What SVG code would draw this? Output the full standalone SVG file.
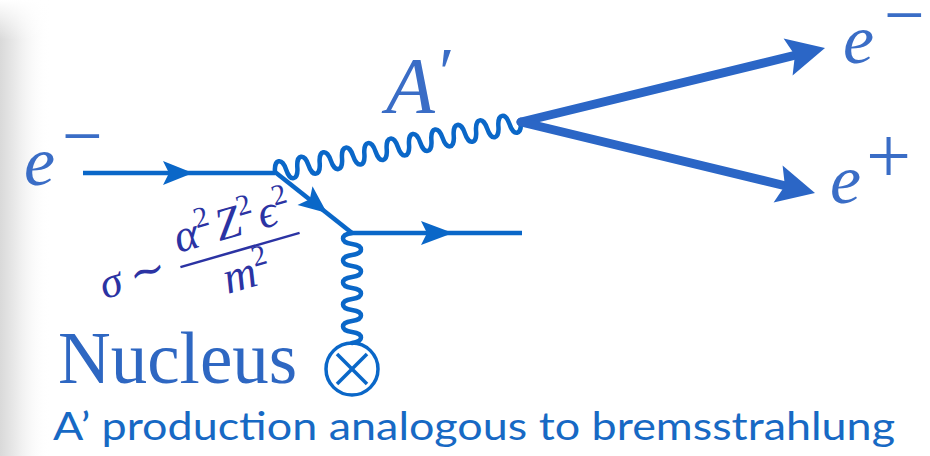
<svg xmlns="http://www.w3.org/2000/svg" width="930" height="456" viewBox="0 0 930 456">
  <defs>
    <linearGradient id="shadow" x1="0" y1="0" x2="1" y2="0">
      <stop offset="0" stop-color="#d9d9d9"/>
      <stop offset="0.3" stop-color="#e9e9e9"/>
      <stop offset="1" stop-color="#ffffff" stop-opacity="0"/>
    </linearGradient>
    <linearGradient id="topfade" x1="0" y1="0" x2="0" y2="1">
      <stop offset="0" stop-color="#ffffff"/>
      <stop offset="1" stop-color="#ffffff" stop-opacity="0"/>
    </linearGradient>
  </defs>
  <style>
    .thin { fill: none; stroke: #0a67c8; stroke-width: 4.5; }
    .wave { fill: none; stroke: #0a67c8; stroke-width: 4.5; stroke-linecap: round; }
    .thick { fill: none; stroke: #2b66c6; stroke-width: 9; stroke-linecap: round; }
    .head { fill: #0a67c8; }
    .headthick { fill: #2b66c6; }
    .lbl { font-family: "Liberation Serif", "DejaVu Serif", serif; font-style: italic; fill: #3a6dc6; }
    .sup { font-family: "Liberation Serif", "DejaVu Serif", serif; font-style: normal; fill: #3a6dc6; }
    .math { font-family: "Liberation Serif", "DejaVu Serif", serif; font-style: italic; fill: #2b33a3; }
    .nuc { font-family: "Liberation Serif", "DejaVu Serif", serif; fill: #2e67c2; }
    .caption { font-family: Lato, "Open Sans", "Liberation Sans", sans-serif; fill: #1769c4; }
  </style>

  <rect x="0" y="0" width="930" height="456" fill="#ffffff"/>
  <rect x="0" y="0" width="50" height="456" fill="url(#shadow)"/>
  <rect x="0" y="0" width="50" height="40" fill="url(#topfade)"/>

  <g id="connectors">
    <!-- incoming electron -->
    <line class="thin" x1="83" y1="173" x2="275" y2="173"/>
    <polygon class="head" points="193,173 163,161 169,173 163,185"/>
    <!-- diagonal electron -->
    <line class="thin" x1="275" y1="172" x2="352" y2="233"/>
    <polygon class="head" points="327,213 312.5,186.2 309.8,199.3 297.5,205"/>
    <!-- outgoing electron -->
    <line class="thin" x1="350" y1="233" x2="522" y2="233"/>
    <polygon class="head" points="453,233 421,221 427,233 421,245"/>
    <!-- A' photon -->
    <path class="wave" transform="translate(275,172) rotate(-11.5)" d="M0,0 c1.5,-13 9.9,-13 11.4,0 c1.5,13 9.9,13 11.4,0 c1.5,-13 9.9,-13 11.4,0 c1.5,13 9.9,13 11.4,0 c1.5,-13 9.9,-13 11.4,0 c1.5,13 9.9,13 11.4,0 c1.5,-13 9.9,-13 11.4,0 c1.5,13 9.9,13 11.4,0 c1.5,-13 9.9,-13 11.4,0 c1.5,13 9.9,13 11.4,0 c1.5,-13 9.9,-13 11.4,0 c1.5,13 9.9,13 11.4,0 c1.5,-13 9.9,-13 11.4,0 c1.5,13 9.9,13 11.4,0 c1.5,-13 9.9,-13 11.4,0 c1.5,13 9.9,13 11.4,0 c1.5,-13 9.9,-13 11.4,0 c1.5,13 9.9,13 11.4,0 c1.5,-13 9.9,-13 11.4,0 c1.5,13 9.9,13 11.4,0 c1.5,-13 9.9,-13 11.4,0 c1.5,13 9.9,13 11.4,0"/>
    <!-- exchanged photon to nucleus -->
    <path class="wave" transform="translate(352,233) rotate(90)" d="M0,0 c1.5,12 9.5,12 11,0 c1.5,-12 9.5,-12 11,0 c1.5,12 9.5,12 11,0 c1.5,-12 9.5,-12 11,0 c1.5,12 9.5,12 11,0 c1.5,-12 9.5,-12 11,0 c1.5,12 9.5,12 11,0 c1.5,-12 9.5,-12 11,0 c1.5,12 9.5,12 11,0 c1.5,-12 9.5,-12 11,0"/>
    <!-- outgoing e- -->
    <line class="thick" x1="521" y1="122" x2="796" y2="55"/>
    <polygon class="headthick" points="825,48 783.6,38.5 794.9,55.3 792.6,75.5"/>
    <!-- outgoing e+ -->
    <line class="thick" x1="521" y1="122" x2="786" y2="186"/>
    <polygon class="headthick" points="815,193 782.6,165.6 784.9,185.7 773.6,202.6"/>
  </g>

  <g id="label-e-in">
    <text class="lbl" x="24" y="185" font-size="70">e</text>
    <text class="sup" x="62" y="160" font-size="72">−</text>
  </g>

  <g id="label-A">
    <text class="lbl" x="386" y="113" font-size="80">A</text>
    <text class="sup" x="439" y="96" font-size="70">′</text>
  </g>

  <g id="label-e-out">
    <text class="lbl" x="843" y="63" font-size="70">e</text>
    <text class="sup" x="884" y="39" font-size="72">−</text>
  </g>

  <g id="label-e-plus">
    <text class="lbl" x="830" y="203" font-size="70">e</text>
    <text class="sup" x="866" y="183" font-size="80">+</text>
  </g>

  <g id="cross-section" transform="rotate(-16 240 250)">
    <text class="math" x="96" y="260" font-size="44">σ</text>
    <text class="math" x="145" y="259" font-size="44" font-style="normal" text-anchor="middle">∼</text>
    <text class="math" x="240" y="236" font-size="46" text-anchor="middle">α<tspan font-size="29" font-style="normal" dy="-19">2</tspan><tspan dy="19" dx="4">Z</tspan><tspan font-size="29" font-style="normal" dy="-19">2</tspan><tspan dy="19" dx="4">ϵ</tspan><tspan font-size="29" font-style="normal" dy="-19">2</tspan></text>
    <line x1="178" y1="250" x2="302" y2="250" stroke="#2b33a3" stroke-width="2.5"/>
    <text class="math" x="240" y="289" font-size="46" text-anchor="middle">m<tspan font-size="29" font-style="normal" dy="-19">2</tspan></text>
  </g>

  <g id="nucleus">
    <text class="nuc" x="58" y="383" font-size="73">Nucleus</text>
    <circle cx="352" cy="369" r="26" fill="none" stroke="#0a67c8" stroke-width="3.5"/>
    <line x1="337" y1="354" x2="367" y2="384" stroke="#0a67c8" stroke-width="3.5"/>
    <line x1="367" y1="354" x2="337" y2="384" stroke="#0a67c8" stroke-width="3.5"/>
  </g>

  <g id="caption">
    <text class="caption" x="53" y="440" font-size="38" textLength="842" lengthAdjust="spacingAndGlyphs">A’ production analogous to bremsstrahlung</text>
  </g>
</svg>
